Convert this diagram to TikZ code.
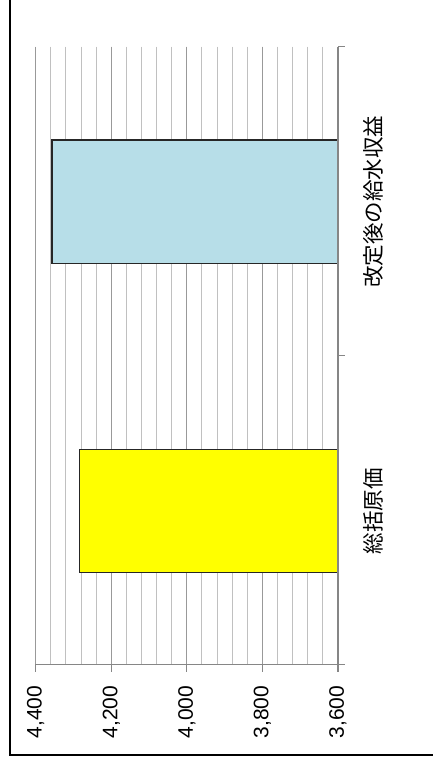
\documentclass[tikz,border=0pt]{standalone}
\usepackage{fontspec}
\setmainfont{Liberation Sans}
\newfontfamily\jpfont{Noto Sans CJK JP}
\definecolor{minorgrid}{HTML}{C0C0C0}
\definecolor{majorgrid}{HTML}{999999}
\definecolor{axisgray}{HTML}{868686}
\definecolor{barblue}{HTML}{B7DEE8}
\definecolor{baryellow}{HTML}{FFFF00}
\begin{document}
\begin{tikzpicture}[x=1pt,y=-1pt,
  minorline/.style={draw=minorgrid,line width=1pt},
  majorline/.style={draw=majorgrid,line width=1pt},
  axisline/.style={draw=axisgray,line width=1.2pt},
  barbox/.style={draw=black!85,line width=1.4pt},
  framel/.style={draw=black,line width=1.8pt},
  ticklabel/.style={rotate=90,font=\fontsize{21}{21}\selectfont,inner sep=0pt},
  catlabel/.style={rotate=90,font=\jpfont\fontsize{21.5}{21.5}\selectfont,inner sep=0pt}]
\useasboundingbox (0,0) rectangle (433,767);
% value scale: 3600 at x=338, 4400 at x=35.7
\pgfmathsetmacro{\xz}{338}
\pgfmathsetmacro{\sc}{302.3/800}
% minor gridlines
\foreach \v in {3640,3680,...,4360}{
  \pgfmathsetmacro{\xx}{\xz-(\v-3600)*\sc}
  \draw[minorline] (\xx,46.7) -- (\xx,664.3);
}
% major gridlines
\foreach \v in {3800,4000,4200,4400}{
  \pgfmathsetmacro{\xx}{\xz-(\v-3600)*\sc}
  \draw[majorline] (\xx,46.7) -- (\xx,664.3);
}
% bars
\node[barbox,fill=barblue,inner sep=0pt,minimum width=285.3pt,minimum height=123.4pt,anchor=north east] (b2) at (338,139.3) {};
\node[barbox,fill=baryellow,inner sep=0pt,minimum width=258pt,minimum height=123pt,anchor=north east] (b1) at (338,448.7) {};
% category axis
\coordinate (ctop) at (338,46.7);
\coordinate (cbot) at (338,664.3);
\draw[axisline] (ctop) -- (cbot);
\draw[axisline] (ctop) -- (345,46.7);
\draw[axisline] (338,355.7) -- (345,355.7);
% value axis
\coordinate (vl) at (35.7,664.3);
\coordinate (vr) at (345,664.3);
\draw[axisline] (vl) -- (vr);
\foreach \v/\lab in {3600/{3,600},3800/{3,800},4000/{4,000},4200/{4,200},4400/{4,400}}{
  \pgfmathsetmacro{\xx}{\xz-(\v-3600)*\sc}
  \draw[axisline] (\xx,664.3) -- (\xx,671.5);
  \node[ticklabel] (t\v) at (\xx,712) {\lab};
}
% category labels
\node[catlabel] (c2) at (373,201.5) {改定後の給水収益};
\node[catlabel] (c1) at (373,511) {総括原価};
% frame
\draw[framel] (10,0) -- (10,755) -- (433,755);
\end{tikzpicture}
\end{document}
